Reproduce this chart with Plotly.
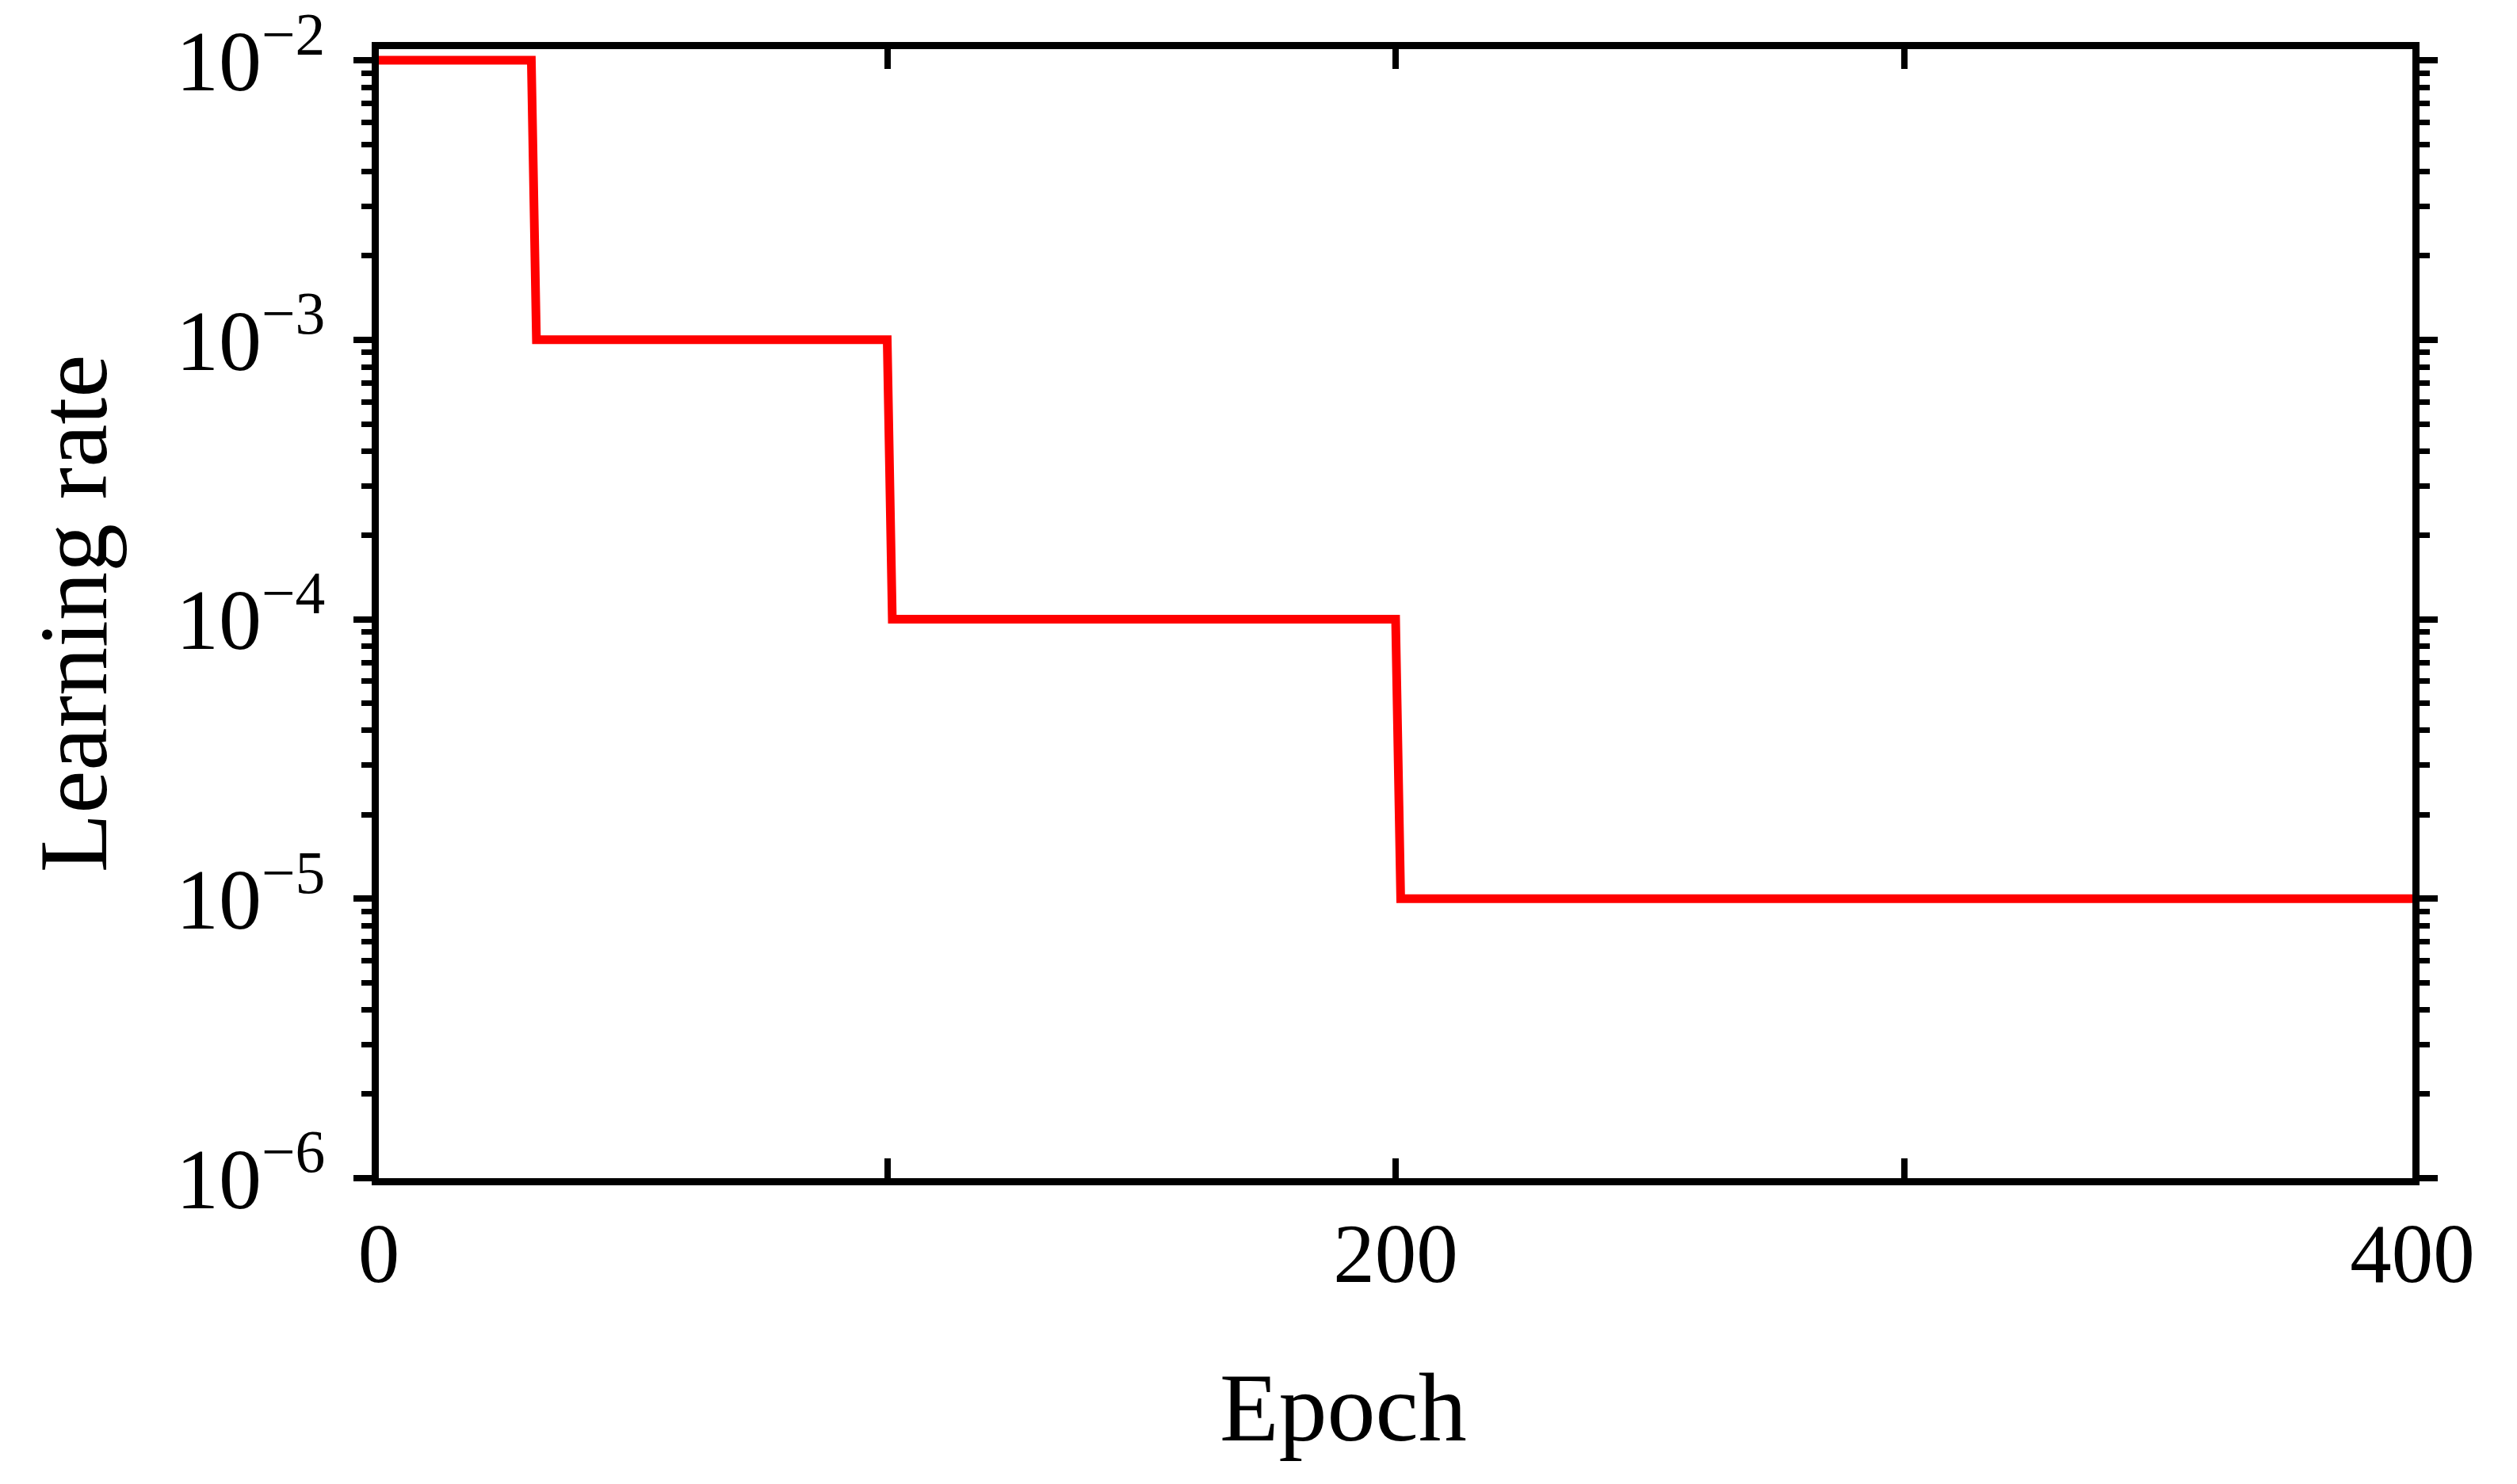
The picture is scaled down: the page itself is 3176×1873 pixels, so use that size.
import plotly.graph_objects as go

# Data
epochs = [0, 30, 31, 100, 101, 200, 201, 400]
learning_rate = [1e-2, 1e-2, 1e-3, 1e-3, 1e-4, 1e-4, 1e-5, 1e-5]

x_tick_vals = [0, 100, 200, 300, 400]
x_tick_text = ["0", "", "200", "", "400"]

y_tick_vals = [1e-6, 1e-5, 1e-4, 1e-3, 1e-2]
y_tick_text = ["10<sup>−6</sup>", "10<sup>−5</sup>", "10<sup>−4</sup>",
               "10<sup>−3</sup>", "10<sup>−2</sup>"]

x_title = "Epoch"
y_title = "Learning rate"

# page has an 8px body margin; target plot box in page pixels
OFF = 8
W, H = 3176 - 2 * OFF, 1873 - 2 * OFF
PL, PR, PT, PB = 478, 3044, 62, 1487
L, T = PL - OFF, PT - OFF
R, B = W - (PR - OFF), H - (PB - OFF)

fig = go.Figure()
fig.add_trace(go.Scatter(
    x=epochs, y=learning_rate, mode="lines",
    line=dict(color="#FF0000", width=11),
    showlegend=False, hoverinfo="skip",
))

serif = "Liberation Serif, Times New Roman, serif"

fig.update_layout(
    width=W, height=H,
    margin=dict(l=L, r=R, t=T, b=B, pad=0),
    paper_bgcolor="white", plot_bgcolor="white",
    font=dict(family=serif, color="black"),
    showlegend=False,
)

fig.update_xaxes(
    range=[0, 400], automargin=False,
    tickvals=x_tick_vals, ticktext=x_tick_text,
    ticks="inside", ticklen=25, tickwidth=8, tickcolor="black",
    showline=True, linewidth=9, linecolor="black", mirror="ticks",
    showgrid=False, zeroline=False,
    tickfont=dict(family=serif, size=105, color="black"),
    ticklabelstandoff=-4, ticklabeloverflow="allow",
)

fig.update_yaxes(
    type="log", range=[-6, -1.96], automargin=False,
    tickvals=y_tick_vals, ticktext=y_tick_text,
    ticks="outside", ticklen=23, tickwidth=8, tickcolor="black",
    minor=dict(ticks="outside", ticklen=13, tickwidth=7, tickcolor="black", dtick="D1", showgrid=False),
    showline=True, linewidth=9, linecolor="black", mirror="ticks",
    showgrid=False, zeroline=False,
    tickfont=dict(family=serif, size=108, color="black"),
    ticklabelstandoff=14, ticklabeloverflow="allow",
    title=dict(text=y_title, font=dict(family=serif, size=122, color="black"), standoff=50),
)

fig.add_annotation(
    text=x_title, xref="paper", yref="paper",
    x=(1695 - PL) / (PR - PL), y=(PB - 1776) / (PB - PT),
    xanchor="center", yanchor="middle", showarrow=False,
    font=dict(family=serif, size=122, color="black"),
)

fig.write_html("out.html")
